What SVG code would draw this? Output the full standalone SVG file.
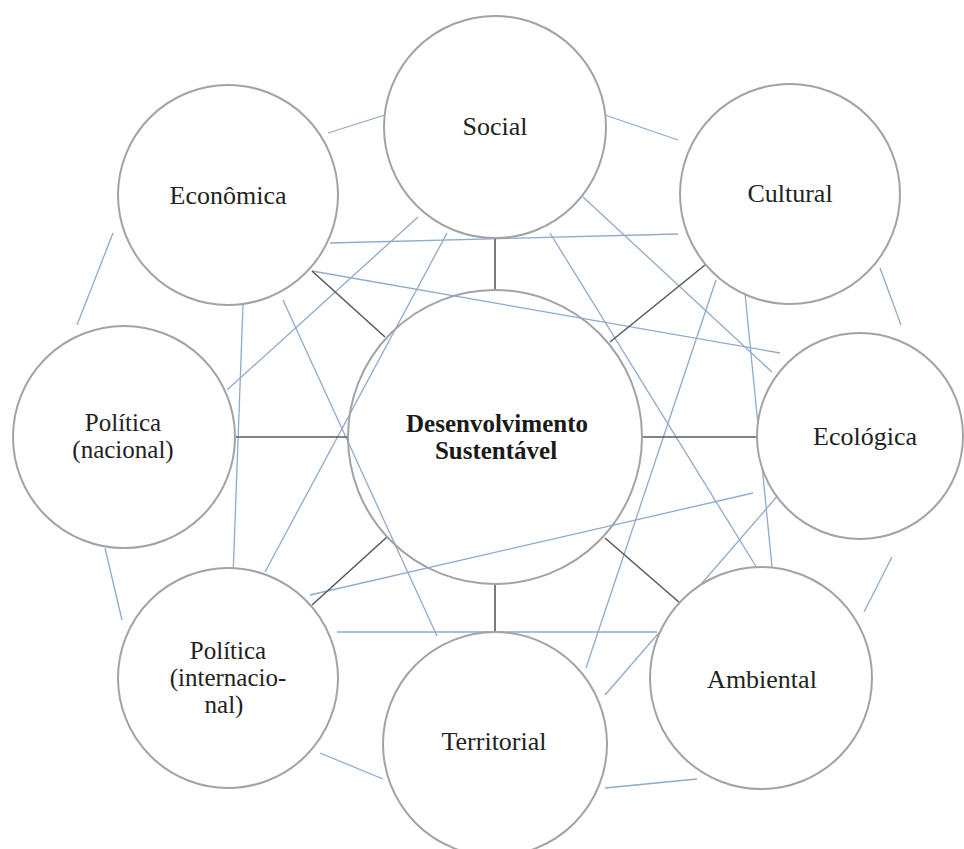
<svg xmlns="http://www.w3.org/2000/svg" width="964" height="849" viewBox="0 0 964 849">
<style>
.bg{fill:#ffffff}
.link{stroke:#8eaacc;stroke-width:1.3;fill:none}
.spoke{stroke:#5a5a5a;stroke-width:1.6;fill:none}
.node{fill:#ffffff;stroke:#a3a3a3;stroke-width:2}
.hub{fill:none;stroke:#a3a3a3;stroke-width:2}
.lbl{font-family:"Liberation Serif","Times New Roman",serif;font-size:25px;fill:#222222;text-anchor:middle}
.big{font-size:26px}
.hubl{font-family:"Liberation Serif","Times New Roman",serif;font-size:25px;font-weight:bold;fill:#1a1a1a;text-anchor:middle}
</style>
<rect class="bg" x="0" y="0" width="964" height="849"/>
<g id="connectors">
<line class="link" x1="328" y1="133" x2="385" y2="115"/>
<line class="link" x1="605" y1="115" x2="678" y2="140"/>
<line class="link" x1="880" y1="268" x2="901" y2="325"/>
<line class="link" x1="892" y1="557" x2="864" y2="612"/>
<line class="link" x1="697" y1="779" x2="605" y2="788"/>
<line class="link" x1="320" y1="753" x2="383" y2="779"/>
<line class="link" x1="105" y1="548" x2="122" y2="620"/>
<line class="link" x1="113" y1="233" x2="77" y2="325"/>
<line class="link" x1="330" y1="243" x2="678" y2="234"/>
<line class="link" x1="312" y1="271" x2="780" y2="353"/>
<line class="link" x1="418" y1="217" x2="227" y2="390"/>
<line class="link" x1="447" y1="233" x2="265" y2="572"/>
<line class="link" x1="243" y1="305" x2="233" y2="577"/>
<line class="link" x1="283" y1="300" x2="437" y2="636"/>
<line class="link" x1="550" y1="233" x2="757" y2="568"/>
<line class="link" x1="583" y1="197" x2="772" y2="372"/>
<line class="link" x1="716" y1="280" x2="586" y2="668"/>
<line class="link" x1="745" y1="293" x2="772" y2="567"/>
<line class="link" x1="753" y1="493" x2="310" y2="595"/>
<line class="link" x1="780" y1="493" x2="605" y2="695"/>
<line class="link" x1="337" y1="632" x2="657" y2="632"/>
<line class="spoke" x1="495" y1="238" x2="495" y2="290"/>
<line class="spoke" x1="312" y1="271" x2="385" y2="337"/>
<line class="spoke" x1="705" y1="265" x2="610" y2="342"/>
<line class="spoke" x1="235" y1="437" x2="347" y2="437"/>
<line class="spoke" x1="642" y1="437" x2="757" y2="437"/>
<line class="spoke" x1="387" y1="537" x2="312" y2="605"/>
<line class="spoke" x1="495" y1="585" x2="495" y2="632"/>
<line class="spoke" x1="605" y1="538" x2="680" y2="603"/>
</g>
<g id="social"><circle class="node" cx="495" cy="127" r="111"/><text class="lbl big" x="495" y="135">Social</text></g>
<g id="economica"><circle class="node" cx="228" cy="195" r="110"/><text class="lbl big" x="228" y="204">Econômica</text></g>
<g id="cultural"><circle class="node" cx="790" cy="194" r="110"/><text class="lbl big" x="790" y="202">Cultural</text></g>
<g id="politica-nacional"><circle class="node" cx="124" cy="437" r="111"/><text class="lbl" x="123" y="431">Política</text><text class="lbl" x="123" y="458">(nacional)</text></g>
<g id="ecologica"><circle class="node" cx="860" cy="436" r="103"/><text class="lbl big" x="865" y="445">Ecológica</text></g>
<g id="politica-internacional"><circle class="node" cx="228" cy="678" r="110"/><text class="lbl" x="228" y="659">Política</text><text class="lbl" x="228" y="686">(internacio-</text><text class="lbl" x="224" y="713">nal)</text></g>
<g id="territorial"><circle class="node" cx="495" cy="744" r="112"/><text class="lbl big" x="494" y="750">Territorial</text></g>
<g id="ambiental"><circle class="node" cx="761" cy="678" r="111"/><text class="lbl big" x="762" y="688">Ambiental</text></g>
<g id="desenvolvimento-sustentavel"><circle class="hub" cx="495" cy="437" r="147"/><text class="hubl" x="497" y="432">Desenvolvimento</text><text class="hubl" x="496" y="459">Sustentável</text></g>
</svg>
